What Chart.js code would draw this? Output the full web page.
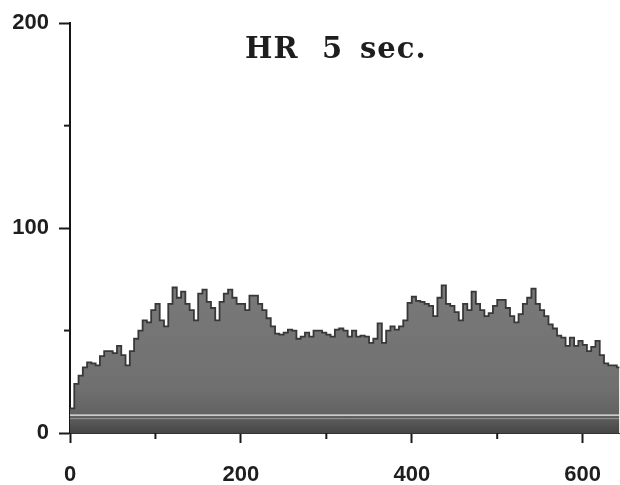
<!DOCTYPE html>
<html>
<head>
<meta charset="utf-8">
<title>HR 5 sec.</title>
<script src="https://cdn.jsdelivr.net/npm/chart.js@4.4.1/dist/chart.umd.min.js"></script>
<style>
    html, body { margin: 0; padding: 0; background: #fff; }
    #wrap { width: 620px; height: 485px; }
</style>
</head>
<body>
<div id="wrap"><canvas id="hrChart"></canvas></div>
<script>
// Heart rate, averaged over 5 second bins
const binSeconds = 5;
const hrValues = [
    12, 24, 28, 32, 34.5, 34, 33, 37.5, 40, 40,
    39, 42.5, 38, 33, 40, 46, 50, 55, 54, 60,
    63, 55, 52, 63, 71, 66, 69, 63, 60, 55,
    68, 70, 64, 61, 55, 64, 68, 70, 66, 63,
    63, 60, 67, 67, 63, 60, 56, 52, 48.5, 48,
    49, 50.5, 50, 46, 47, 49, 47, 50, 50, 49,
    48, 47, 50.5, 51, 50, 47, 50, 47, 47.5, 47,
    44, 46, 53.5, 44, 50, 52, 50.5, 52, 55, 63.5,
    66.5, 64.5, 64, 63, 62, 57, 66, 72, 63, 62,
    59, 55, 63, 60, 69, 63, 60, 57, 58.5, 62,
    65, 65, 61, 57, 54, 58, 63, 66, 70.5, 63,
    60, 57, 53, 51, 47.5, 46.5, 42.5, 46.5, 42.5, 45,
    43, 40, 42, 45, 38, 34, 33, 33, 32
];

// axis ticks
const xMajorTicks = [0, 200, 400, 600];
const xMinorTicks = [100, 300, 500];
const xMax = 643;
const yMajorTicks = [0, 100, 200];
const yMinorTicks = [50, 150];

// faint white scan lines across the fill
const scanLines = [8.7, 7.0];

// title words and their offsets from the y axis
const titleWords = ['HR', '5', 'sec.'];
const titleOffsets = [175, 252, 290];

// Build step points (each value holds for one bin)
function buildPoints() {
    const pts = hrValues.map((v, i) => ({ x: i * binSeconds, y: v }));
    pts.push({ x: hrValues.length * binSeconds, y: hrValues[hrValues.length - 1] });
    return pts;
}

function fillGradient(context) {
    const chart = context.chart;
    const area = chart.chartArea;
    if (!area) return '#727272';
    const y = chart.scales.y;
    const g = chart.ctx.createLinearGradient(0, y.getPixelForValue(75), 0, y.getPixelForValue(0));
    g.addColorStop(0, '#7a7a7a');
    g.addColorStop(0.7, '#707070');
    g.addColorStop(0.88, '#626262');
    g.addColorStop(1, '#464646');
    return g;
}

// minor ticks + title
const extrasPlugin = {
    id: 'extras',
    afterDraw(chart) {
        const ctx = chart.ctx;
        const xs = chart.scales.x;
        const ys = chart.scales.y;
        const area = chart.chartArea;
        ctx.save();
        ctx.strokeStyle = '#1a1a1a';
        ctx.lineWidth = 2;
        yMinorTicks.forEach(v => {
            const py = ys.getPixelForValue(v);
            ctx.beginPath();
            ctx.moveTo(area.left - 6, py);
            ctx.lineTo(area.left, py);
            ctx.stroke();
        });
        xMinorTicks.forEach(v => {
            const px = xs.getPixelForValue(v);
            ctx.beginPath();
            ctx.moveTo(px, area.bottom);
            ctx.lineTo(px, area.bottom + 6);
            ctx.stroke();
        });
        // title
        ctx.fillStyle = '#1e1e1e';
        ctx.font = 'bold 29px "DejaVu Serif"';
        ctx.textBaseline = 'alphabetic';
        ctx.textAlign = 'left';
        ctx.letterSpacing = '1px';
        titleWords.forEach((w, i) => {
            ctx.fillText(w, area.left + titleOffsets[i], area.top + 35);
        });
        ctx.restore();
    }
};

function initializeChart() {
    const ctx = document.getElementById('hrChart').getContext('2d');
    const tickFont = { family: '"Liberation Sans", Arial, sans-serif', size: 22, weight: 'bold' };

    new Chart(ctx, {
        type: 'line',
        data: {
            datasets: [
                {
                    data: [{ x: 0, y: scanLines[0] }, { x: xMax, y: scanLines[0] }],
                    borderColor: 'rgba(255,255,255,0.9)',
                    borderWidth: 1.3,
                    pointRadius: 0,
                    fill: false
                },
                {
                    data: [{ x: 0, y: scanLines[1] }, { x: xMax, y: scanLines[1] }],
                    borderColor: 'rgba(255,255,255,0.35)',
                    borderWidth: 1,
                    pointRadius: 0,
                    fill: false
                },
                {
                    label: 'HR',
                    data: buildPoints(),
                    stepped: true,
                    borderColor: '#383838',
                    borderWidth: 1.8,
                    backgroundColor: fillGradient,
                    fill: 'origin',
                    pointRadius: 0
                }
            ]
        },
        options: {
            responsive: true,
            maintainAspectRatio: false,
            animation: false,
            layout: { padding: { top: 18, right: 0, left: 0, bottom: 0 } },
            plugins: {
                legend: { display: false },
                tooltip: { enabled: false }
            },
            scales: {
                x: {
                    type: 'linear',
                    min: 0,
                    max: xMax,
                    afterBuildTicks: scale => {
                        scale.ticks = xMajorTicks.map(v => ({ value: v }));
                    },
                    afterFit: scale => { scale.height = 52; },
                    grid: {
                        drawOnChartArea: false,
                        drawTicks: true,
                        tickLength: 10,
                        tickWidth: 2,
                        tickColor: '#1a1a1a'
                    },
                    border: { display: true, color: '#333', width: 1 },
                    ticks: {
                        autoSkip: false,
                        maxRotation: 0,
                        padding: 19,
                        color: '#1e1e1e',
                        font: tickFont
                    }
                },
                y: {
                    min: 0,
                    max: 200,
                    afterBuildTicks: scale => {
                        scale.ticks = yMajorTicks.map(v => ({ value: v }));
                    },
                    afterFit: scale => { scale.width = 70; },
                    grid: {
                        drawOnChartArea: false,
                        drawTicks: true,
                        tickLength: 11,
                        tickWidth: 2,
                        tickColor: '#1a1a1a'
                    },
                    border: { display: true, color: '#151515', width: 2 },
                    ticks: {
                        padding: 10,
                        color: '#1e1e1e',
                        font: tickFont
                    }
                }
            }
        },
        plugins: [extrasPlugin]
    });
}

document.addEventListener('DOMContentLoaded', initializeChart);
</script>
</body>
</html>
